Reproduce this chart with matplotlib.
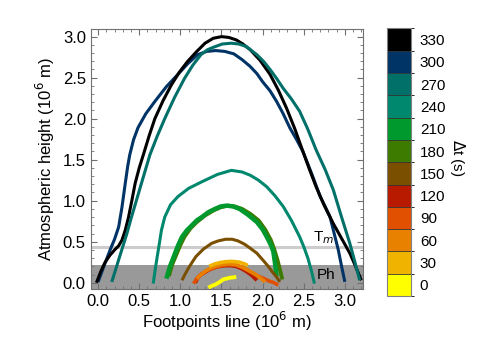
import matplotlib
matplotlib.use('Agg')
import matplotlib.pyplot as plt
import numpy as np
from matplotlib.colors import ListedColormap, BoundaryNorm
from matplotlib.ticker import MultipleLocator, FormatStrFormatter

plt.rcParams['font.family'] = ['Liberation Sans', 'DejaVu Sans']

# time steps (s) and their colours
dt_values = [0, 30, 60, 90, 120, 150, 180, 210, 240, 270, 300, 330]
dt_colors = ['#ffff00', '#f0b400', '#e88000', '#e05000', '#b81a00', '#7a5000',
             '#3d7a00', '#00992e', '#00886e', '#007068', '#003366', '#000000']

# loop profiles: footpoint coordinate / height (10^6 m)
x_330 = [-0.02, 0.03, 0.08, 0.14, 0.2, 0.25, 0.29, 0.33, 0.37, 0.41, 0.45, 0.50, 0.55,
         0.62, 0.69, 0.79, 0.89, 0.99, 1.09, 1.20, 1.30, 1.40, 1.50, 1.59, 1.68, 1.76,
         1.85, 1.97, 2.09, 2.19, 2.29, 2.39, 2.49, 2.57, 2.65, 2.75, 2.86, 2.96, 3.06,
         3.13, 3.20]
y_330 = [0.0, 0.13, 0.24, 0.33, 0.40, 0.45, 0.52, 0.64, 0.80, 1.00, 1.21, 1.40, 1.56,
         1.79, 2.0, 2.22, 2.41, 2.57, 2.70, 2.82, 2.92, 2.98, 3.0, 2.99, 2.96, 2.91,
         2.84, 2.71, 2.54, 2.35, 2.13, 1.88, 1.60, 1.38, 1.17, 0.94, 0.72, 0.54, 0.36,
         0.20, 0.03]

x_300 = [0.0, 0.07, 0.146, 0.2, 0.25, 0.29, 0.33, 0.36, 0.385, 0.43, 0.485, 0.58, 0.69,
         0.83, 0.97, 1.09, 1.21, 1.32, 1.43, 1.54, 1.65, 1.75, 1.845, 1.93, 2.0, 2.09,
         2.17, 2.25, 2.33, 2.41, 2.49, 2.60, 2.70, 2.76, 2.82, 2.87, 2.92, 2.96, 3.0]
y_300 = [0.01, 0.20, 0.40, 0.53, 0.68, 0.92, 1.21, 1.42, 1.56, 1.74, 1.89, 2.06, 2.21,
         2.39, 2.54, 2.67, 2.78, 2.82, 2.83, 2.82, 2.79, 2.72, 2.64, 2.55, 2.45, 2.34,
         2.21, 2.06, 1.89, 1.75, 1.60, 1.32, 1.05, 0.93, 0.80, 0.60, 0.40, 0.20, 0.01]

x_270 = [0.166, 0.21, 0.25, 0.30, 0.35, 0.40, 0.45, 0.50, 0.55, 0.63, 0.72, 0.81, 0.93,
         1.05, 1.15, 1.25, 1.33, 1.40, 1.51, 1.62, 1.71, 1.80, 1.93, 2.01, 2.09, 2.17,
         2.25, 2.35, 2.45, 2.55, 2.65, 2.76, 2.86, 2.96, 3.06, 3.12, 3.18]
y_270 = [0.01, 0.15, 0.28, 0.44, 0.60, 0.78, 0.95, 1.12, 1.29, 1.56, 1.79, 2.0, 2.26,
         2.49, 2.65, 2.78, 2.84, 2.87, 2.91, 2.92, 2.91, 2.88, 2.78, 2.70, 2.60, 2.49,
         2.37, 2.24, 2.09, 1.87, 1.62, 1.38, 1.13, 0.80, 0.48, 0.26, 0.03]

x_240 = [0.67, 0.70, 0.74, 0.77, 0.81, 0.88, 0.97, 1.10, 1.26, 1.45, 1.62, 1.75, 1.85,
         1.95, 2.05, 2.15, 2.25, 2.35, 2.45, 2.50, 2.55, 2.60, 2.63]
y_240 = [-0.01, 0.20, 0.45, 0.64, 0.80, 0.95, 1.05, 1.15, 1.23, 1.32, 1.37, 1.35, 1.31,
         1.25, 1.17, 1.06, 0.93, 0.76, 0.56, 0.44, 0.30, 0.12, -0.01]

x_210 = [0.83, 0.87, 0.92, 0.97, 1.02, 1.08, 1.14, 1.20, 1.26, 1.34, 1.42, 1.49, 1.56,
         1.64, 1.72, 1.82, 1.93, 2.00, 2.05, 2.10, 2.13, 2.15, 2.17]
y_210 = [0.05, 0.19, 0.32, 0.45, 0.56, 0.64, 0.70, 0.76, 0.80, 0.86, 0.90, 0.93, 0.94,
         0.93, 0.90, 0.83, 0.74, 0.65, 0.56, 0.46, 0.38, 0.24, 0.08]

x_180 = [0.86, 0.90, 0.95, 1.00, 1.05, 1.12, 1.20, 1.30, 1.40, 1.49, 1.58, 1.66, 1.75,
         1.85, 1.95, 2.03, 2.10, 2.14, 2.18, 2.21, 2.24]
y_180 = [0.08, 0.22, 0.34, 0.46, 0.56, 0.66, 0.74, 0.82, 0.88, 0.92, 0.94, 0.93, 0.90,
         0.84, 0.76, 0.65, 0.52, 0.41, 0.28, 0.16, 0.04]

x_150 = [1.02, 1.06, 1.10, 1.15, 1.19, 1.28, 1.38, 1.46, 1.55, 1.63, 1.70, 1.78, 1.85,
         1.93, 2.0, 2.06, 2.12, 2.17, 2.21]
y_150 = [0.03, 0.11, 0.18, 0.26, 0.32, 0.41, 0.48, 0.51, 0.53, 0.53, 0.51, 0.47, 0.42,
         0.36, 0.28, 0.21, 0.13, 0.07, 0.01]

x_120 = [1.18, 1.21, 1.25, 1.30, 1.35, 1.44, 1.55, 1.62, 1.68, 1.74, 1.80, 1.87, 1.93]
y_120 = [0.0, 0.06, 0.10, 0.13, 0.16, 0.195, 0.21, 0.21, 0.20, 0.175, 0.14, 0.09, 0.03]

x_90 = [1.16, 1.20, 1.25, 1.32, 1.40, 1.49, 1.58, 1.67, 1.75, 1.84, 1.91, 1.97, 2.03,
        2.08, 2.14, 2.19]
y_90 = [-0.01, 0.05, 0.10, 0.145, 0.18, 0.205, 0.22, 0.215, 0.19, 0.14, 0.10, 0.07,
        0.045, 0.02, 0.0, -0.03]

x_60 = [1.20, 1.25, 1.30, 1.37, 1.45, 1.52, 1.60, 1.68, 1.75, 1.82, 1.90, 1.97, 2.03]
y_60 = [0.05, 0.10, 0.14, 0.18, 0.21, 0.225, 0.23, 0.22, 0.19, 0.155, 0.11, 0.06, 0.01]

x_30 = [1.35, 1.42, 1.48, 1.54, 1.60, 1.66, 1.72, 1.78, 1.82]
y_30 = [0.20, 0.23, 0.245, 0.255, 0.26, 0.258, 0.25, 0.23, 0.21]

x_0 = [1.34, 1.38, 1.43, 1.48, 1.52, 1.56, 1.60, 1.64, 1.68]
y_0 = [-0.06, -0.04, -0.02, 0.01, 0.04, 0.05, 0.06, 0.065, 0.07]

loops = {330: (x_330, y_330), 300: (x_300, y_300), 270: (x_270, y_270),
         240: (x_240, y_240), 180: (x_180, y_180), 210: (x_210, y_210),
         150: (x_150, y_150), 120: (x_120, y_120), 90: (x_90, y_90),
         60: (x_60, y_60), 30: (x_30, y_30), 0: (x_0, y_0)}
widths = {210: 3.2, 180: 2.8, 120: 2.8, 90: 2.6, 60: 2.6, 30: 2.6, 0: 2.8}

ph_top = 0.22
tm_level = 0.44

fig = plt.figure(figsize=(4.85, 3.47), dpi=100)
ax = fig.add_axes([0.187, 0.167, 0.5614, 0.7487])

ax.axhspan(-0.2, ph_top, color='#999999', lw=0, zorder=0)
ax.axhline(tm_level, color='#cccccc', lw=2.2, zorder=0.5)

for dt in [300, 330, 270, 240, 180, 210, 150, 120, 90, 60, 30, 0]:
    xs, ys = loops[dt]
    ax.plot(xs, ys, color=dt_colors[dt_values.index(dt)], lw=widths.get(dt, 2.2),
            solid_capstyle='butt', solid_joinstyle='round', zorder=2)

ax.text(2.61, tm_level + 0.01, r'T$_m$', fontsize=11, va='bottom', ha='left')
ax.text(2.66, 0.1, 'Ph', fontsize=11, va='center', ha='left')

ax.set_xlim(-0.09, 3.22)
ax.set_ylim(-0.077, 3.09)
ax.xaxis.set_major_locator(MultipleLocator(0.5))
ax.xaxis.set_minor_locator(MultipleLocator(0.1))
ax.yaxis.set_major_locator(MultipleLocator(0.5))
ax.yaxis.set_minor_locator(MultipleLocator(0.1))
ax.xaxis.set_major_formatter(FormatStrFormatter('%.1f'))
ax.yaxis.set_major_formatter(FormatStrFormatter('%.1f'))
ax.tick_params(which='both', direction='in', top=True, right=True, color='#707070',
               labelsize=12)
ax.tick_params(which='major', length=4)
ax.tick_params(which='minor', length=2)
for s in ax.spines.values():
    s.set_color('#707070')

ax.set_xlabel('Footpoints line (10$^6$ m)', fontsize=12, labelpad=1)
ax.set_ylabel('Atmospheric height (10$^6$ m)', fontsize=12, labelpad=4)

# discrete colour bar
cmap = ListedColormap(dt_colors)
bounds = np.arange(-15, 346, 30)
norm = BoundaryNorm(bounds, cmap.N)
cax = fig.add_axes([0.798, 0.147, 0.0503, 0.771])
cb = fig.colorbar(matplotlib.cm.ScalarMappable(norm=norm, cmap=cmap), cax=cax,
                  ticks=dt_values, drawedges=True)
cb.dividers.set_color('#333333')
cb.dividers.set_linewidth(0.6)
cb.outline.set_edgecolor('#808080')
cax.tick_params(length=0, labelsize=11, pad=6)
fig.text(0.944, 0.545, r'$\Delta$t (s)', rotation=270, fontsize=11,
         ha='center', va='center')

plt.savefig('out.png', dpi=100)
